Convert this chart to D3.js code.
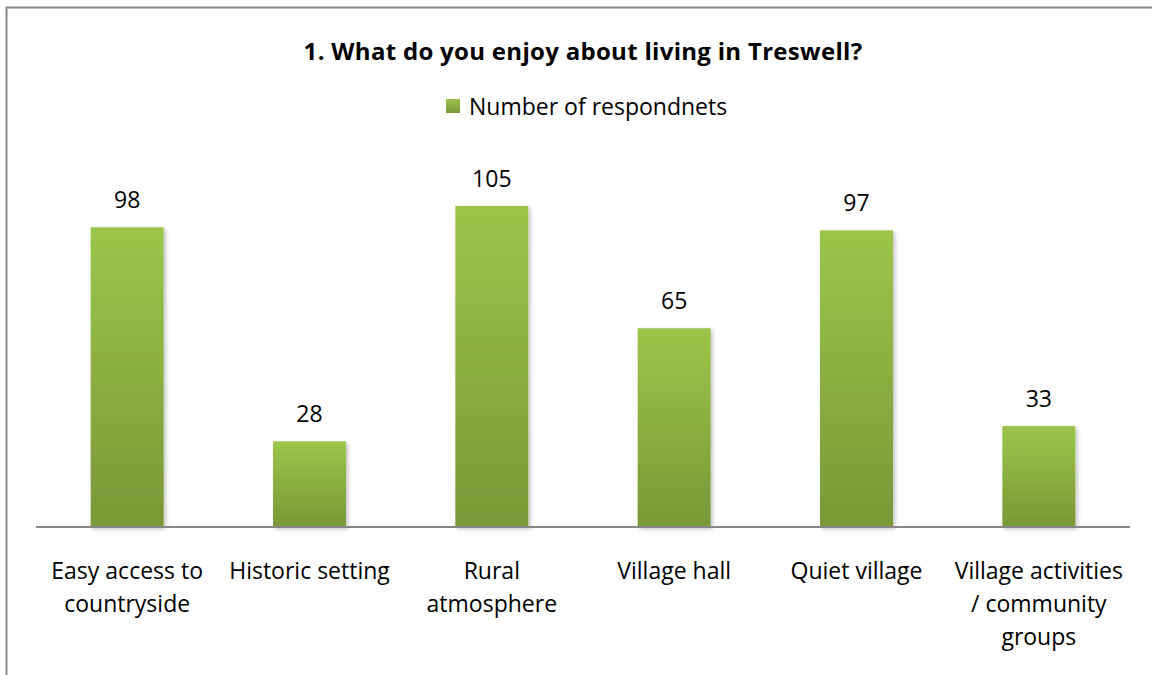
<!DOCTYPE html>
<html><head><meta charset="utf-8">
<script src="https://cdn.jsdelivr.net/npm/d3@7"></script>
<style>body{margin:0;background:#fff}svg{display:block}</style>
</head><body>
<script>
const categories = ["Easy access to countryside","Historic setting","Rural atmosphere","Village hall","Quiet village","Village activities / community groups"];
const categoryLines = [["Easy access to","countryside"],["Historic setting"],["Rural","atmosphere"],["Village hall"],["Quiet village"],["Village activities","/ community","groups"]];
const values = [98,28,105,65,97,33];
const seriesName = "Number of respondnets";
const title = "1. What do you enjoy about living in Treswell?";

const W=1152,H=675;
const svg=d3.select("body").append("svg").attr("width",W).attr("height",H);
const defs=svg.append("defs");
const g=defs.append("linearGradient").attr("id","grad").attr("x1",0).attr("y1",0).attr("x2",0).attr("y2",1);
g.append("stop").attr("offset","0%").attr("stop-color","#9cc54a");
g.append("stop").attr("offset","100%").attr("stop-color","#789838");
const f=defs.append("filter").attr("id","sh").attr("x","-20%").attr("y","-5%").attr("width","150%").attr("height","115%");
f.append("feDropShadow").attr("dx",2).attr("dy",2).attr("stdDeviation",2).attr("flood-color","#000").attr("flood-opacity",0.25);

svg.append("rect").attr("x",6.5).attr("y",7.5).attr("width",1160).attr("height",700).attr("fill","#fff").attr("stroke","#888").attr("stroke-width",2);

const font="'Open Sans', sans-serif";
const x=d3.scaleBand().domain(categories).range([36,1130]).paddingInner(0.6).paddingOuter(0.3);
const y=d3.scaleLinear().domain([0,120]).range([527,160]);

svg.append("text").attr("x",583).attr("y",60).attr("text-anchor","middle").attr("font-family",font).attr("font-weight","bold").attr("font-size",24).attr("letter-spacing",0.3).attr("fill","#000").text(title);

svg.append("rect").attr("x",446).attr("y",99).attr("width",14).attr("height",14).attr("fill","url(#grad)");
svg.append("text").attr("x",469).attr("y",115).attr("font-family",font).attr("font-size",23).attr("fill","#000").text(seriesName);

svg.selectAll("rect.bar").data(values).enter().append("rect").attr("class","bar")
 .attr("x",(d,i)=>x(categories[i])).attr("width",x.bandwidth())
 .attr("y",d=>y(d)).attr("height",d=>y(0)-y(d)).attr("fill","url(#grad)").attr("filter","url(#sh)");

svg.selectAll("text.val").data(values).enter().append("text").attr("class","val")
 .attr("x",(d,i)=>x(categories[i])+x.bandwidth()/2).attr("y",d=>y(d)-19)
 .attr("text-anchor","middle").attr("font-family",font).attr("font-size",23).attr("fill","#000").text(d=>d);

const ax=svg.append("g").attr("transform","translate(0,527)").call(d3.axisBottom(x).tickSize(0).tickFormat(""));
ax.select(".domain").attr("stroke","#868686").attr("stroke-width",2).attr("d","M36,0H1130");

categoryLines.forEach((lines,i)=>{
  const t=svg.append("text").attr("text-anchor","middle").attr("font-family",font).attr("font-size",23).attr("fill","#000");
  lines.forEach((l,j)=>t.append("tspan").attr("x",x(categories[i])+x.bandwidth()/2).attr("y",579+j*33).text(l));
});
</script>
</body></html>
